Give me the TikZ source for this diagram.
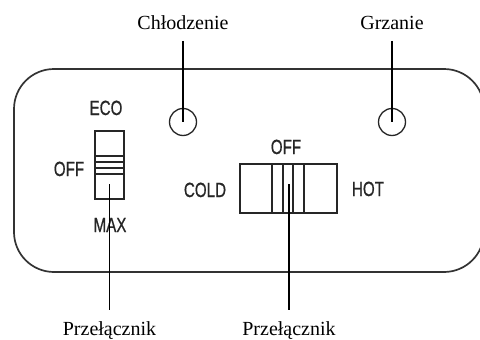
\documentclass[tikz,border=0pt]{standalone}
\usepackage{fontspec}
\setmainfont{Liberation Serif}
\newfontfamily\swfont[FakeBold=0.8]{Liberation Sans}
\begin{document}
\begin{tikzpicture}[x=1pt,y=-1pt,
  lbl/.style={inner sep=0pt,anchor=base,font=\fontsize{20}{24}\selectfont},
  sw/.style={inner sep=0pt,anchor=base,font=\swfont\fontsize{20.5}{23}\selectfont,xscale=0.74,text=black!85},
  frame/.style={draw=black!80,line width=1.7pt,rounded corners=40pt},
  part/.style={draw=black!85,line width=1.3pt},
  ptr/.style={draw=black,line width=1.1pt}]
\useasboundingbox (0,0) rectangle (480,340);
\clip (0,0) rectangle (480,340);
\fill[white] (0,0) rectangle (480,340);
% frame
\draw[frame] (14,69) rectangle (484,272);
% lamps
\node[part,circle,minimum size=27pt,inner sep=0pt] (c1) at (183,122) {};
\node[part,circle,minimum size=27pt,inner sep=0pt] (c2) at (392,122) {};
\node[lbl] (chl) at (183,29) {Chłodzenie};
\node[lbl] (grz) at (392,29) {Grzanie};
\draw[ptr,shorten <=11.5pt] (chl.south) -- (c1.center);
\draw[ptr,shorten <=11.5pt] (grz.south) -- (c2.center);
% left switch
\node[part,rectangle,inner sep=0pt,minimum width=29pt,minimum height=68pt] (s1) at (109.5,165) {};
\foreach \yy in {156,162,168,174} \draw[part] (s1.west |- 0,\yy) -- (s1.east |- 0,\yy);
\node[sw] (eco) at (106,115) {ECO};
\node[sw] (off1) at (69,176) {OFF};
\node[sw] (max) at (110,232) {MAX};
% right switch
\node[part,rectangle,inner sep=0pt,minimum width=97pt,minimum height=49pt] (s2) at (288.5,188.5) {};
\foreach \xx in {272,283,293,304} \draw[part] (s2.north -| \xx,0) -- (s2.south -| \xx,0);
\node[sw] (off2) at (286,154) {OFF};
\node[sw] (cold) at (205,197) {COLD};
\node[sw] (hot) at (368,196) {HOT};
% pointers to bottom labels
\coordinate (p1) at (109.5,184);
\coordinate (p2) at (289,184);
\node[lbl] (prz1) at (109.5,335) {Przełącznik};
\node[lbl] (prz2) at (289,335) {Przełącznik};
\draw[ptr,shorten >=11pt] (p1) -- (prz1.north);
\draw[ptr,shorten >=11pt] (p2) -- (prz2.north);
\end{tikzpicture}
\end{document}
